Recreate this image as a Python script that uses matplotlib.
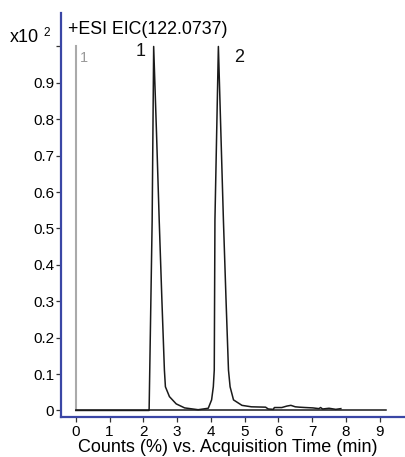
import matplotlib
matplotlib.use("Agg")
import matplotlib.pyplot as plt

# EIC trace (time in min, counts x10^2)
trace_t = [0.0, 2.15, 2.17, 2.26, 2.305, 2.39, 2.47, 2.55, 2.623, 2.653, 2.772,
           2.973, 3.222, 3.623, 3.922, 4.021, 4.072, 4.10, 4.12, 4.222, 4.30,
           4.371, 4.45, 4.521, 4.569, 4.67, 4.92, 5.2, 5.62, 5.7, 5.85, 5.88,
           6.1, 6.25, 6.37, 6.5, 6.62, 6.8, 7.02, 7.2, 7.25, 7.31, 7.5, 7.7, 7.85]
trace_v = [0.0, 0.0, 0.0, 0.52, 1.0, 0.76, 0.52, 0.30, 0.111, 0.065, 0.038,
           0.018, 0.007, 0.002, 0.006, 0.029, 0.065, 0.111, 0.523, 1.0, 0.75,
           0.523, 0.30, 0.111, 0.065, 0.029, 0.014, 0.010, 0.009, 0.004, 0.003, 0.008,
           0.008, 0.012, 0.014, 0.010, 0.009, 0.008, 0.007, 0.005, 0.008, 0.004, 0.006, 0.003, 0.005]
baseline_t = [0.0, 9.2]
baseline_v = [0.0, 0.0]
marker_t = [0.0, 0.0]
marker_v = [0.0, 1.0]

peak_labels = ["1", "2"]
peak_label_t = [1.925, 4.83]
peak_label_v = [0.985, 0.971]

xticks = list(range(10))
yticks = [0, 0.1, 0.2, 0.3, 0.4, 0.5, 0.6, 0.7, 0.8, 0.9, 1.0]
yticklabels = ["0", "0.1", "0.2", "0.3", "0.4", "0.5", "0.6", "0.7", "0.8", "0.9", ""]

plt.rcParams["font.family"] = ["Liberation Sans", "DejaVu Sans"]
blue = "#3a46a5"

fig = plt.figure(figsize=(4.06, 4.57), dpi=100)
ax = fig.add_axes([61 / 406, 40 / 457, 1 - 61 / 406 + 0.01, (417 - 13) / 457])

ax.plot(marker_t, marker_v, color="#aaaaaa", lw=1.5)
ax.plot(baseline_t, baseline_v, color="#1a1a1a", lw=1.1)
ax.plot(trace_t, trace_v, color="#1a1a1a", lw=1.1)

ax.set_xlim(-0.44, 9.9)
ax.set_ylim(-0.018, 1.092)
ax.set_xticks(xticks)
ax.set_xticklabels([str(t) for t in xticks])
ax.set_yticks(yticks)
ax.set_yticklabels(yticklabels)
ax.tick_params(axis="both", direction="out", length=3.5, width=0.9,
               labelsize=11, color="#333333", pad=1.5)
ax.tick_params(axis="x", pad=2.5)

for s in ("top", "right"):
    ax.spines[s].set_visible(False)
for s in ("left", "bottom"):
    ax.spines[s].set_color(blue)
    ax.spines[s].set_linewidth(1.6)

fig.text(228 / 406, 1 - 448 / 457, "Counts (%) vs. Acquisition Time (min)",
         fontsize=13, ha="center", va="center")

for lab, t, v in zip(peak_labels, peak_label_t, peak_label_v):
    ax.text(t, v, lab, fontsize=13, ha="center", va="center", color="#111111")
ax.text(0.25, 0.968, "1", fontsize=10.5, ha="center", va="center", color="#999999")

fig.text(68 / 406, 1 - 30 / 457, "+ESI EIC(122.0737)", fontsize=12.8, va="center", ha="left")
fig.text(10 / 406, 1 - 37 / 457, "x10", fontsize=13, va="center", ha="left")
fig.text(43 / 406, 1 - 33 / 457, "2", fontsize=8.5, va="center", ha="left")

fig.savefig("out.png", dpi=100)
